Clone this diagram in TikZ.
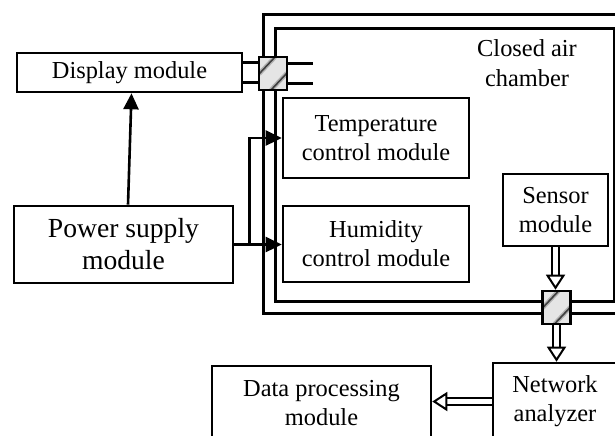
\documentclass[tikz,border=0pt]{standalone}
\usepackage{fontspec}
\setmainfont{Liberation Serif}
\usepackage{tikz}
\usetikzlibrary{positioning,arrows.meta}

\tikzset{
  block/.style={draw,line width=1.3pt,fill=white,align=center,inner sep=0pt,
    font=\fontsize{12.2}{14.5}\selectfont},
  wall/.style={draw,line width=1.5pt},
  stub/.style={draw,line width=1.3pt},
  port/.style={draw,line width=1.3pt,fill=gray!20,inner sep=0pt,
    minimum width=14pt,minimum height=16.5pt,
    path picture={
      \draw[gray!60,line width=2.2pt]
        ([yshift=8pt]path picture bounding box.south west) -- ([xshift=8pt]path picture bounding box.north west)
        ([xshift=6pt]path picture bounding box.south west) -- ([yshift=-8pt]path picture bounding box.north east);
      \draw[black!75,line width=0.8pt]
        ([yshift=8pt]path picture bounding box.south west) -- ([xshift=8pt]path picture bounding box.north west)
        ([xshift=6pt]path picture bounding box.south west) -- ([yshift=-8pt]path picture bounding box.north east);
    }},
  feed/.style={line width=1.3pt,-{Triangle[length=8pt,width=7.5pt]}},
  signal/.style={double,double distance=2.6pt,line width=1pt,
    -{Triangle[open,length=7.5pt,width=9.5pt]}},
}

\begin{document}
\begin{tikzpicture}[x=0.5pt,y=-0.5pt]
\useasboundingbox (0,0) rectangle (615,435);
\clip (0,0) rectangle (615,435);

% walls of the chamber (the outer one runs off to the right)
\draw[wall] (263,14) rectangle (660,313);
\draw[wall] (275,28) rectangle (614,301);
\node[font=\fontsize{12.2}{15}\selectfont,align=center] (chamber) at (527,63) {Closed air\\chamber};

% modules
\node[block,minimum width=112.5pt,minimum height=19.5pt] (display) at (129.5,72.5) {Display module};
\node[block,minimum width=109.5pt,minimum height=38.5pt,font=\fontsize{13.8}{16}\selectfont]
  (power) at (123.5,244.5) {Power supply\\module};
\node[block,minimum width=93pt,minimum height=40pt] (temp) at (376,138) {Temperature\\control module};
\node[block,minimum width=93pt,minimum height=38pt] (humid) at (376,244) {Humidity\\control module};
\node[block,minimum width=52.5pt,minimum height=36pt] (sensor) at (555.5,210) {Sensor\\module};
\node[block,minimum width=62pt,minimum height=38.5pt] (net) at (555,401.5) {Network\\analyzer};
\node[block,minimum width=109.5pt,minimum height=37pt] (data) at (321.5,403) {Data processing\\module};

% feed-throughs in the walls
\node[port] (portA) at (273,73.5) {};
\node[port] (portB) at (556.5,307.5) {};

% display cable through the wall
\draw[stub] ([yshift=5pt]display.east) -- ([yshift=5pt]display.east -| portA.west);
\draw[stub] ([yshift=-5pt]display.east) -- ([yshift=-5pt]display.east -| portA.west);
\draw[stub] ([yshift=5pt]portA.east) -- ++(12.5pt,0);
\draw[stub] ([yshift=-5pt]portA.east) -- ++(12.5pt,0);

% power lines
\coordinate (split) at ([xshift=7.5pt]power.east);
\draw[feed] ([xshift=2.25pt]power.north) -- ([xshift=1pt]display.south);
\draw[feed] (power.east) -- (power.east -| humid.west);
\draw[feed] (split) |- (temp.west);

% measurement path
\draw[signal] (sensor.south) -- (sensor.south |- portB.north);
\draw[signal] (portB.south) -- (portB.south |- net.north);
\draw[signal] (net.west) -- (net.west -| data.east);
\end{tikzpicture}
\end{document}
